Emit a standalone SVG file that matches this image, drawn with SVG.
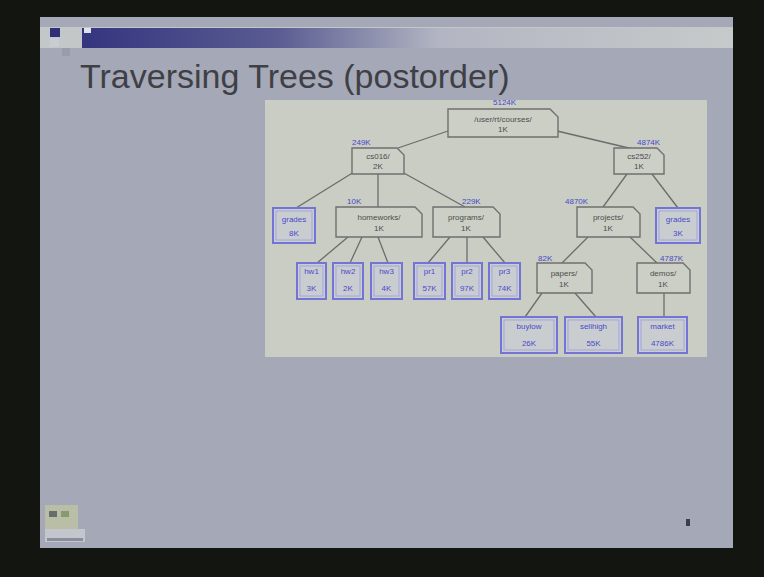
<svg xmlns="http://www.w3.org/2000/svg" width="764" height="577" viewBox="0 0 764 577">
<defs>
<linearGradient id="band" x1="82" y1="0" x2="733" y2="0" gradientUnits="userSpaceOnUse">
<stop offset="0" stop-color="#34357f"/>
<stop offset="0.3" stop-color="#5a5c92"/>
<stop offset="0.55" stop-color="#b3b6c2"/>
<stop offset="1" stop-color="#c6caca"/>
</linearGradient>
<style>
.dir{fill:#cbcfc6;stroke:#707070;stroke-width:1.4}
.file{fill:#c9cdd0;stroke:#7474d4;stroke-width:2}
.fin{fill:none;stroke:#9b9be0;stroke-width:0.8}
.dt{font-family:"Liberation Sans",Arial,sans-serif;font-size:8px;fill:#4d4d4d;text-anchor:middle}
.ft{font-family:"Liberation Sans",Arial,sans-serif;font-size:8px;fill:#4a4ac8;text-anchor:middle}
.sz{font-family:"Liberation Sans",Arial,sans-serif;font-size:8px;fill:#4848c8}
.edge line{stroke:#6c6c6c;stroke-width:1.3}
</style>
</defs>
<rect x="0" y="0" width="764" height="577" fill="#121510"/>
<rect x="40" y="17" width="693" height="531" fill="#a5a8b6"/>
<rect x="40" y="27" width="693" height="21" fill="#c3c7c8"/>
<rect x="82" y="28" width="651" height="20" fill="url(#band)"/>
<rect x="50" y="28" width="10" height="9" fill="#2f3078"/>
<rect x="50" y="38" width="9" height="9" fill="#c9ccd2"/>
<rect x="62" y="48" width="8" height="8" fill="#9a9caa"/>
<rect x="84" y="28" width="7" height="5" fill="#e0e2ea"/>
<text x="80" y="88" font-family="Liberation Sans,Arial,sans-serif" font-size="34" fill="#3e4046">Traversing Trees (postorder)</text>
<rect x="265" y="100" width="442" height="257" fill="#c9cdc4"/>
<g class="edge" id="connectors">
<line x1="448" y1="131" x2="398" y2="148"/>
<line x1="557" y1="131" x2="633" y2="149"/>
<line x1="354" y1="172" x2="296" y2="208"/>
<line x1="378" y1="174" x2="378" y2="207"/>
<line x1="402" y1="172" x2="465" y2="207"/>
<line x1="627" y1="174" x2="603" y2="207"/>
<line x1="652" y1="174" x2="678" y2="208"/>
<line x1="348" y1="237" x2="317" y2="263"/>
<line x1="362" y1="237" x2="350" y2="263"/>
<line x1="378" y1="237" x2="388" y2="263"/>
<line x1="450" y1="237" x2="428" y2="263"/>
<line x1="467" y1="237" x2="467" y2="263"/>
<line x1="483" y1="237" x2="505" y2="263"/>
<line x1="588" y1="237" x2="562" y2="263"/>
<line x1="630" y1="237" x2="657" y2="263"/>
<line x1="542" y1="293" x2="525" y2="317"/>
<line x1="575" y1="293" x2="596" y2="317"/>
<line x1="664" y1="293" x2="664" y2="317"/>
</g>
<g id="root"><path class="dir" d="M448 109H550L558 117V137H448Z"/><text class="dt" x="503" y="122">/user/rt/courses/</text><text class="dt" x="503" y="132">1K</text><text class="sz" x="493" y="105">5124K</text></g>
<g id="cs016"><path class="dir" d="M352 148H397L404 155V174H352Z"/><text class="dt" x="378" y="159">cs016/</text><text class="dt" x="378" y="169">2K</text><text class="sz" x="352" y="145">249K</text></g>
<g id="cs252"><path class="dir" d="M614 148H657L664 155V174H614Z"/><text class="dt" x="639" y="159">cs252/</text><text class="dt" x="639" y="169">1K</text><text class="sz" x="637" y="145">4874K</text></g>
<g id="homeworks"><path class="dir" d="M336 207H415L422 214V237H336Z"/><text class="dt" x="379" y="220">homeworks/</text><text class="dt" x="379" y="231">1K</text><text class="sz" x="347" y="204">10K</text></g>
<g id="programs"><path class="dir" d="M433 207H493L500 214V237H433Z"/><text class="dt" x="466" y="220">programs/</text><text class="dt" x="466" y="231">1K</text><text class="sz" x="462" y="204">229K</text></g>
<g id="projects"><path class="dir" d="M577 207H633L640 214V237H577Z"/><text class="dt" x="608" y="220">projects/</text><text class="dt" x="608" y="231">1K</text><text class="sz" x="565" y="204">4870K</text></g>
<g id="papers"><path class="dir" d="M537 263H585L592 270V293H537Z"/><text class="dt" x="564" y="276">papers/</text><text class="dt" x="564" y="287">1K</text><text class="sz" x="538" y="261">82K</text></g>
<g id="demos"><path class="dir" d="M637 263H683L690 270V293H637Z"/><text class="dt" x="663" y="276">demos/</text><text class="dt" x="663" y="287">1K</text><text class="sz" x="660" y="261">4787K</text></g>
<g id="grades1"><rect class="file" x="273" y="208" width="42" height="35"/><rect class="fin" x="276" y="211" width="36" height="29"/><text class="ft" x="294" y="222">grades</text><text class="ft" x="294" y="236">8K</text></g>
<g id="grades2"><rect class="file" x="656" y="208" width="44" height="35"/><rect class="fin" x="659" y="211" width="38" height="29"/><text class="ft" x="678" y="222">grades</text><text class="ft" x="678" y="236">3K</text></g>
<g id="hw1"><rect class="file" x="297" y="263" width="29" height="36"/><rect class="fin" x="300" y="266" width="23" height="30"/><text class="ft" x="311.5" y="274">hw1</text><text class="ft" x="311.5" y="291">3K</text></g>
<g id="hw2"><rect class="file" x="333" y="263" width="30" height="36"/><rect class="fin" x="336" y="266" width="24" height="30"/><text class="ft" x="348" y="274">hw2</text><text class="ft" x="348" y="291">2K</text></g>
<g id="hw3"><rect class="file" x="371" y="263" width="31" height="36"/><rect class="fin" x="374" y="266" width="25" height="30"/><text class="ft" x="386.5" y="274">hw3</text><text class="ft" x="386.5" y="291">4K</text></g>
<g id="pr1"><rect class="file" x="414" y="263" width="31" height="36"/><rect class="fin" x="417" y="266" width="25" height="30"/><text class="ft" x="429.5" y="274">pr1</text><text class="ft" x="429.5" y="291">57K</text></g>
<g id="pr2"><rect class="file" x="452" y="263" width="30" height="36"/><rect class="fin" x="455" y="266" width="24" height="30"/><text class="ft" x="467" y="274">pr2</text><text class="ft" x="467" y="291">97K</text></g>
<g id="pr3"><rect class="file" x="489" y="263" width="31" height="36"/><rect class="fin" x="492" y="266" width="25" height="30"/><text class="ft" x="504.5" y="274">pr3</text><text class="ft" x="504.5" y="291">74K</text></g>
<g id="buylow"><rect class="file" x="501" y="317" width="56" height="36"/><rect class="fin" x="504" y="320" width="50" height="30"/><text class="ft" x="529" y="329">buylow</text><text class="ft" x="529" y="346">26K</text></g>
<g id="sellhigh"><rect class="file" x="565" y="317" width="57" height="36"/><rect class="fin" x="568" y="320" width="51" height="30"/><text class="ft" x="593.5" y="329">sellhigh</text><text class="ft" x="593.5" y="346">55K</text></g>
<g id="market"><rect class="file" x="638" y="317" width="49" height="36"/><rect class="fin" x="641" y="320" width="43" height="30"/><text class="ft" x="662.5" y="329">market</text><text class="ft" x="662.5" y="346">4786K</text></g>
<rect x="45" y="505" width="33" height="24" fill="#b9bea6"/>
<rect x="49" y="511" width="8" height="6" fill="#6a6e6a"/>
<rect x="61" y="511" width="8" height="6" fill="#8a9a70"/>
<rect x="45" y="529" width="40" height="13" fill="#c3c6cc"/>
<rect x="47" y="538" width="36" height="3" fill="#8a8d9a"/>
<rect x="686" y="519" width="4" height="7" fill="#3c3e4c"/>
</svg>
